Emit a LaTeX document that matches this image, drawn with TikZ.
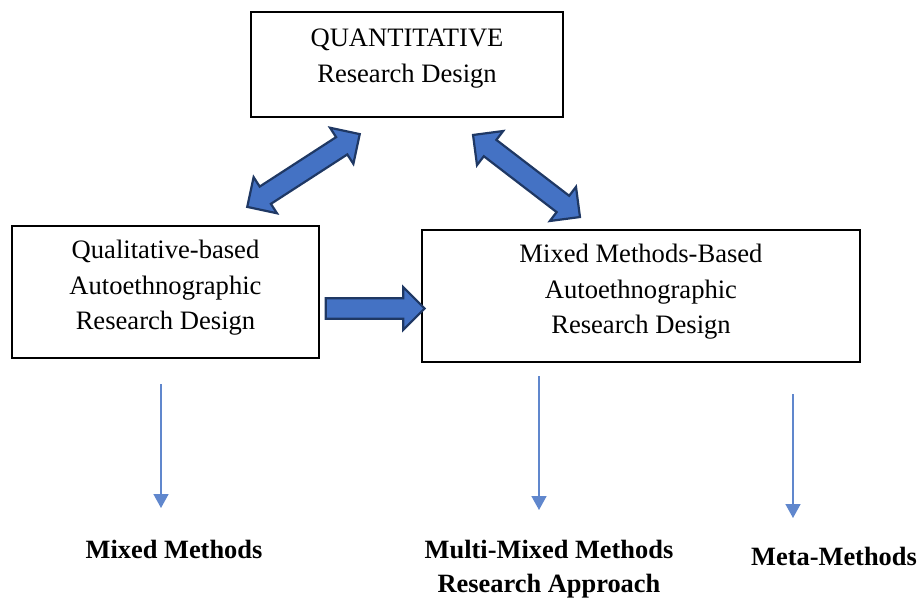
\documentclass[tikz,border=0pt]{standalone}
\usepackage{fontspec}
\setmainfont{Liberation Serif}
\usetikzlibrary{arrows.meta,shapes.arrows,positioning,calc}
\definecolor{fillblue}{RGB}{68,114,196}
\definecolor{edgeblue}{RGB}{31,56,100}

\begin{document}
\begin{tikzpicture}[
    x=0.5pt, y=-0.5pt,
    box/.style={draw, line width=0.6pt, align=center, inner sep=0pt, font=\fontsize{13.3}{17.7}\selectfont},
    blk/.style={draw=edgeblue, fill=fillblue, line width=1.1pt, inner xsep=0pt, inner ysep=4.6pt},
    dbl/.style={blk, double arrow, double arrow head extend=5.6pt},
    sgl/.style={blk, single arrow, single arrow head extend=5.6pt},
    arr/.style={-{Triangle[length=7pt, width=7.5pt]}, draw=fillblue!85, line width=0.8pt},
    lbl/.style={align=center, font=\bfseries\fontsize{13.2}{16.8}\selectfont}
]
\useasboundingbox (0,0) rectangle (921,601);

\node[box, minimum width=156pt, minimum height=52.5pt, text depth=9pt] (quant) at (407,64.5) {QUANTITATIVE\\Research Design};
\node[box, minimum width=153.5pt, minimum height=66pt, text depth=7pt] (qual) at (165.5,292) {Qualitative-based\\Autoethnographic\\Research Design};
\node[box, minimum width=219pt, minimum height=66pt, text depth=7pt] (mixd) at (641,296) {Mixed Methods-Based\\Autoethnographic\\Research Design};

% block arrows
\node[dbl, minimum height=67pt, rotate=32.9] (dl) at (303.5,170.5) {};
\node[dbl, minimum height=67.4pt, rotate=-37.5] (dr) at (526.5,176) {};
\node[sgl, minimum height=49.5pt] (hr) at (370,308.5) {};

\node[lbl] (mm) at (174,549) {Mixed Methods};
\node[lbl] (mmra) at (549,569) {Multi-Mixed Methods\\Research Approach};
\node[lbl] (meta) at (834,556) {Meta-Methods};

\coordinate (s1) at (161,384);
\coordinate (e1) at (161,508);
\coordinate (s2) at (539,376);
\coordinate (e2) at (539,510);
\coordinate (s3) at (793,394);
\coordinate (e3) at (793,518);

\draw[arr] (s1) -- (e1);
\draw[arr] (s2) -- (e2);
\draw[arr] (s3) -- (e3);
\end{tikzpicture}
\end{document}
